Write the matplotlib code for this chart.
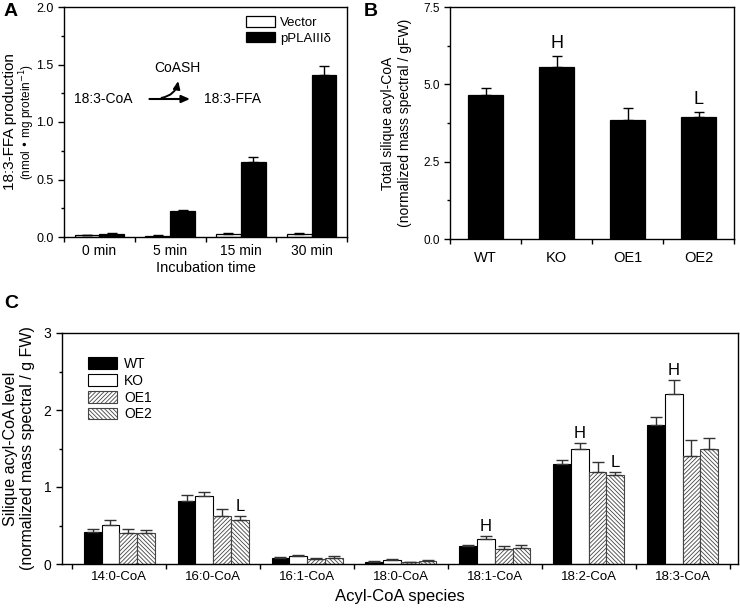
import numpy as np
import matplotlib
matplotlib.use("Agg")
import matplotlib.pyplot as plt
from matplotlib.ticker import MultipleLocator, FixedLocator

plt.rcParams['font.family'] = ['Liberation Sans', 'DejaVu Sans']
plt.rcParams['hatch.linewidth'] = 0.6
plt.rcParams['axes.linewidth'] = 1.0

# ---------- Panel A data ----------
times = ["0 min", "5 min", "15 min", "30 min"]
vector = [0.015, 0.012, 0.030, 0.028]
vector_err = [0.004, 0.004, 0.008, 0.004]
pplaiii = [0.025, 0.225, 0.655, 1.41]
pplaiii_err = [0.010, 0.012, 0.040, 0.080]

# ---------- Panel B data ----------
lines_b = ["WT", "KO", "OE1", "OE2"]
total_acyl = [4.66, 5.55, 3.85, 3.93]
total_err = [0.21, 0.37, 0.39, 0.19]
marks_b = ["", "H", "", "L"]

# ---------- Panel C data ----------
species = ["14:0-CoA", "16:0-CoA", "16:1-CoA", "18:0-CoA", "18:1-CoA", "18:2-CoA", "18:3-CoA"]
wt = [0.42, 0.82, 0.08, 0.03, 0.235, 1.295, 1.80]
wt_err = [0.03, 0.08, 0.01, 0.01, 0.01, 0.05, 0.11]
ko = [0.51, 0.88, 0.10, 0.05, 0.325, 1.49, 2.21]
ko_err = [0.06, 0.06, 0.02, 0.02, 0.04, 0.08, 0.18]
oe1 = [0.40, 0.62, 0.06, 0.02, 0.19, 1.19, 1.40]
oe1_err = [0.05, 0.09, 0.02, 0.01, 0.04, 0.14, 0.21]
oe2 = [0.40, 0.57, 0.08, 0.04, 0.21, 1.15, 1.50]
oe2_err = [0.04, 0.05, 0.02, 0.01, 0.035, 0.04, 0.14]
marks_c = {(4, 1): "H", (5, 1): "H", (6, 1): "H", (1, 3): "L", (5, 3): "L"}

W, H = 740, 610
fig = plt.figure(figsize=(W / 100, H / 100), dpi=100)


def ax_px(l, t, r, b):
    return fig.add_axes([l / W, 1 - b / H, (r - l) / W, (b - t) / H])


def style_cat_axis(ax, n):
    ax.set_xlim(-0.5, n - 0.5)
    ax.set_xticks(np.arange(n))
    ax.tick_params(axis='x', which='major', length=0, pad=5)
    ax.xaxis.set_minor_locator(FixedLocator(np.arange(n + 1) - 0.5))
    ax.tick_params(axis='x', which='minor', length=3.5, direction='out', width=1)
    ax.tick_params(axis='y', which='major', length=4, direction='out', width=1)
    ax.tick_params(axis='y', which='minor', length=2.5, direction='out', width=1)


errkw = dict(ecolor='black', elinewidth=1.0, capsize=3.5, capthick=1.0)

# ---------- Panel A ----------
axA = ax_px(64, 7, 347, 237)
x = np.arange(len(times))
wA = 0.35
axA.bar(x - wA / 2, vector, wA, color='white', edgecolor='black', linewidth=0.9,
        yerr=[np.zeros(4), vector_err], error_kw=errkw, label='Vector')
axA.bar(x + wA / 2, pplaiii, wA, color='black', edgecolor='black', linewidth=0.9,
        yerr=[np.zeros(4), pplaiii_err], error_kw=errkw, label='pPLAIIIδ')
style_cat_axis(axA, 4)
axA.set_ylim(0, 2.0)
axA.yaxis.set_major_locator(MultipleLocator(0.5))
axA.yaxis.set_minor_locator(MultipleLocator(0.25))
axA.set_yticklabels([f"{v:.1f}" for v in axA.get_yticks()])
axA.set_xticklabels(times, fontsize=10)
axA.tick_params(axis='y', labelsize=9)
axA.set_xlabel("Incubation time", fontsize=10.5, labelpad=2)
axA.legend(loc='upper left', bbox_to_anchor=(0.61, 1.0), frameon=False, fontsize=9.5,
           handlelength=2.2, handleheight=0.85, labelspacing=0.2, handletextpad=0.4,
           borderaxespad=0.3)
axA.text(0.138, 0.60, "18:3-CoA", transform=axA.transAxes, ha='center', va='center', fontsize=10)
axA.text(0.597, 0.60, "18:3-FFA", transform=axA.transAxes, ha='center', va='center', fontsize=10)
axA.text(0.40, 0.735, "CoASH", transform=axA.transAxes, ha='center', va='center', fontsize=10)
axA.annotate("", xy=(0.455, 0.60), xytext=(0.292, 0.60), xycoords='axes fraction',
             arrowprops=dict(arrowstyle='-|>,head_length=0.5,head_width=0.22', color='black', lw=1.5))
axA.annotate("", xy=(0.405, 0.69), xytext=(0.335, 0.603), xycoords='axes fraction',
             arrowprops=dict(arrowstyle='-|>,head_length=0.45,head_width=0.2', color='black', lw=1.4,
                             connectionstyle='arc3,rad=0.4'))
fig.text(10 / W, 1 - 122 / H, "18:3-FFA production", rotation=90, ha='center', va='center', fontsize=11)
fig.text(27 / W, 1 - 122 / H, "(nmol • mg protein$^{-1}$)", rotation=90, ha='center', va='center', fontsize=8.5)
fig.text(4 / W, 1 - 12 / H, "A", fontsize=14, fontweight='bold', ha='left', va='center')

# ---------- Panel B ----------
axB = ax_px(450, 7, 734, 239)
xb = np.arange(len(lines_b))
axB.bar(xb, total_acyl, 0.5, color='black', edgecolor='black', linewidth=0.9,
        yerr=[np.zeros(4), total_err], error_kw=errkw)
style_cat_axis(axB, 4)
axB.set_ylim(0, 7.5)
axB.yaxis.set_major_locator(MultipleLocator(2.5))
axB.yaxis.set_minor_locator(MultipleLocator(1.25))
axB.set_yticklabels([f"{v:.1f}" for v in axB.get_yticks()])
axB.set_xticklabels(lines_b, fontsize=10.5)
axB.tick_params(axis='x', which='major', pad=9)
axB.tick_params(axis='y', labelsize=8.5)
for i, m in enumerate(marks_b):
    if m:
        axB.text(xb[i], total_acyl[i] + total_err[i] + 0.12, m, ha='center', va='bottom', fontsize=13)
axB.set_ylabel("Total silique acyl-CoA\n(normalized mass spectral / gFW)", fontsize=10, labelpad=8,
               linespacing=1.25)
fig.text(364 / W, 1 - 12 / H, "B", fontsize=14, fontweight='bold', ha='left', va='center')

# ---------- Panel C ----------
axC = ax_px(62, 333, 738, 564)
xc = np.arange(len(species))
wc = 0.189
series = [(wt, wt_err, 'WT', 'black', None),
          (ko, ko_err, 'KO', 'white', None),
          (oe1, oe1_err, 'OE1', 'white', '////////'),
          (oe2, oe2_err, 'OE2', 'white', '\\\\\\\\\\\\\\\\')]
for k, (vals, errs, lab, fc, hatch) in enumerate(series):
    off = (k - 1.5) * wc
    ec = 'black' if hatch is None else '#444444'
    axC.bar(xc + off, vals, wc, color=fc, edgecolor=ec, linewidth=0.8, hatch=hatch,
            yerr=[np.zeros(len(vals)), errs], error_kw=dict(ecolor='#333333', elinewidth=1.0,
                                                             capsize=4.5, capthick=1.0),
            label=lab)
for (i, k), m in marks_c.items():
    vals, errs = series[k][0], series[k][1]
    axC.text(xc[i] + (k - 1.5) * wc, vals[i] + errs[i] + 0.03, m, ha='center', va='bottom', fontsize=12)
style_cat_axis(axC, 7)
axC.set_xlim(-0.61, 6.59)
axC.set_ylim(0, 3)
axC.yaxis.set_major_locator(MultipleLocator(1))
axC.yaxis.set_minor_locator(MultipleLocator(0.5))
axC.set_xticklabels(species, fontsize=9.5)
axC.tick_params(axis='y', labelsize=10)
axC.set_xlabel("Acyl-CoA species", fontsize=12, labelpad=4)
axC.set_ylabel("Silique acyl-CoA level\n(normalized mass spectral / g FW)", fontsize=11.5, labelpad=6,
               linespacing=1.2)
axC.legend(loc='upper left', bbox_to_anchor=(0.02, 0.95), frameon=False, fontsize=10,
           handlelength=2.1, handleheight=0.9, labelspacing=0.2, handletextpad=0.5)
fig.text(4 / W, 1 - 303 / H, "C", fontsize=14, fontweight='bold', ha='left', va='center')

fig.savefig("out.png", dpi=100)
